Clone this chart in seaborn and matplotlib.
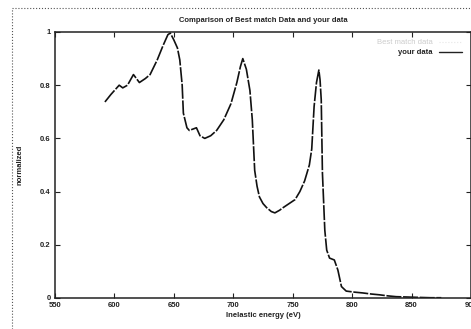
import matplotlib
matplotlib.use("Agg")
import matplotlib.pyplot as plt
from matplotlib.lines import Line2D
import seaborn as sns
import pandas as pd

# --- data ---
energy = [592, 597, 604, 607, 611, 616, 621, 626, 630, 636, 641, 645, 647, 650, 653, 655,
          657, 658, 661, 663, 666, 669, 672, 676, 681, 686, 692, 698, 703, 706, 708,
          711, 714, 716, 718, 720, 722, 725, 728, 732, 735, 739, 742, 747, 752, 756, 760,
          764, 766, 768, 770, 772, 773, 774, 775, 777, 778.6, 781, 785, 788, 791, 795,
          802, 809, 816, 823, 830, 837, 844, 851, 858, 866, 875]
intensity = [0.737, 0.765, 0.80, 0.79, 0.80, 0.84, 0.81, 0.825, 0.84, 0.895, 0.95, 0.99, 0.996,
             0.97, 0.94, 0.895, 0.80, 0.695, 0.64, 0.63, 0.635, 0.64, 0.61, 0.60, 0.61,
             0.63, 0.67, 0.73, 0.81, 0.87, 0.90, 0.86, 0.78, 0.67, 0.48, 0.42, 0.38, 0.355,
             0.34, 0.325, 0.32, 0.33, 0.34, 0.355, 0.37, 0.40, 0.44, 0.50, 0.56, 0.72, 0.81,
             0.857, 0.82, 0.745, 0.47, 0.255, 0.18, 0.15, 0.143, 0.105, 0.043, 0.026,
             0.022, 0.019, 0.015, 0.012, 0.008, 0.005, 0.004, 0.003, 0.002, 0.001, 0.001]

x_ticks = [550, 600, 650, 700, 750, 800, 850, 900]
y_ticks = [0, 0.2, 0.4, 0.6, 0.8, 1]
y_tick_labels = ["0", "0.2", "0.4", "0.6", "0.8", "1"]

title = "Comparison of Best match Data and your data"
x_label = "Inelastic energy (eV)"
y_label = "normalized"
legend_labels = ["Best match data", "your data"]

sns.set_style("ticks")
plt.rcParams["font.family"] = ["Liberation Sans", "DejaVu Sans"]
plt.rcParams["xtick.direction"] = "in"
plt.rcParams["ytick.direction"] = "in"

df = pd.DataFrame({"energy": energy, "intensity": intensity})

fig = plt.figure(figsize=(4.71, 3.29), dpi=100)
W, H = 471, 329
ax = fig.add_axes([55 / W, (H - 298) / H, (471 - 55) / W, (298 - 32) / H])

sns.lineplot(data=df, x="energy", y="intensity", ax=ax, color="#111111",
             linewidth=1.2, estimator=None, sort=False)
ax.lines[-1].set_dashes([9, 1.0])

ax.set_xlim(550, 900)
ax.set_ylim(0, 1)
ax.set_xticks(x_ticks)
ax.set_xticklabels([str(v) for v in x_ticks], fontsize=5.5, fontweight="bold")
ax.set_yticks(y_ticks)
ax.set_yticklabels(y_tick_labels, fontsize=5.5, fontweight="bold")
ax.tick_params(axis="both", which="major", length=3.5, width=0.8, color="#222222",
               top=True, right=True, pad=3, labelcolor="#222222")
for s in ax.spines.values():
    s.set_linewidth(1.1)
    s.set_color("#222222")

ax.set_xlabel(x_label, fontsize=5.5, fontweight="bold", color="#222222", labelpad=2)
ax.set_ylabel(y_label, fontsize=5.5, fontweight="bold", color="#222222", labelpad=12)
ax.set_title(title, fontsize=5.5, fontweight="bold", color="#222222", pad=7)

handles = [Line2D([], [], color="#e6e6e6", linestyle=":", linewidth=0.8),
           Line2D([], [], color="#222222", linewidth=1.0)]
leg = ax.legend(handles, legend_labels, loc="upper right", bbox_to_anchor=(0.985, 0.985),
                frameon=False, prop={"size": 5.5, "weight": "bold"}, markerfirst=False,
                handlelength=3.0, labelspacing=0.35, handletextpad=0.8, borderaxespad=0)
leg.get_texts()[0].set_color("#cccccc")
leg.get_texts()[0].set_fontweight("normal")
leg.get_texts()[1].set_color("#222222")

# dotted scan frame
fig.add_artist(Line2D([12 / W, 12 / W], [0, 1 - 8 / H], transform=fig.transFigure,
                      color="#555555", linestyle=":", linewidth=0.8))
fig.add_artist(Line2D([12 / W, 1], [1 - 8 / H, 1 - 8 / H], transform=fig.transFigure,
                      color="#555555", linestyle=":", linewidth=0.8))

fig.savefig("out.png", dpi=100)
